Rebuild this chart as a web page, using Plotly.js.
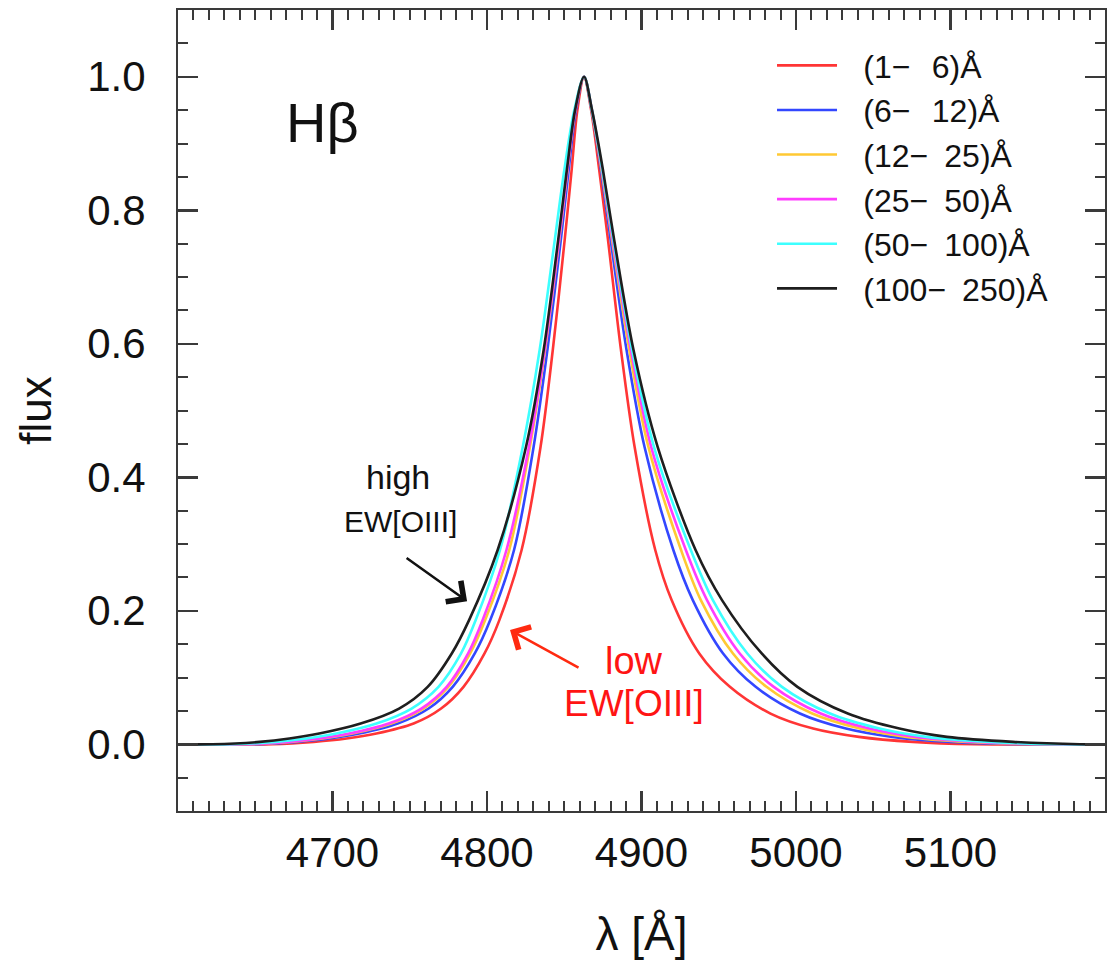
<!DOCTYPE html>
<html>
<head>
<meta charset="utf-8">
<script src="https://cdn.plot.ly/plotly-3.0.1.min.js"></script>
<style>html,body{margin:0;padding:0;background:#fff;}#chart{width:1115px;height:966px;}</style>
</head>
<body>
<div id="chart"></div>
<script>
// Legend labels (EW[OIII] bins) and colours
var seriesNames = [
  "\u2002\u2006(1\u2212\u2002\u20066)\u00c5",
  "\u2002\u2006(6\u2212\u2002\u200612)\u00c5",
  "\u2002\u2006(12\u2212\u200225)\u00c5",
  "\u2002\u2006(25\u2212\u200250)\u00c5",
  "\u2002\u2006(50\u2212\u2002100)\u00c5",
  "\u2002\u2006(100\u2212\u2002250)\u00c5"
];
var seriesColors = ["#ff3535", "#3347ff", "#ffc933", "#ff3dff", "#3dffff", "#1e1e1e"];

// Normalised flux levels at which the profiles were read (left wing -> peak -> right wing)
var fluxLevels = [0, 0, 0.0035, 0.0085, 0.016, 0.031, 0.0535, 0.086, 0.136, 0.186, 0.291, 0.446, 0.591, 0.756, 0.861, 0.95,
                  1.0,
                  0.95, 0.861, 0.756, 0.591, 0.446, 0.291, 0.216, 0.136, 0.086, 0.046, 0.0235, 0.011, 0.0035, 0, 0];

// Wavelengths (A) of each profile at those flux levels
var lamRed = [4600, 4661.0, 4687.9, 4709.1, 4728.4, 4752.5, 4770.3, 4784.8, 4798.4, 4808.0, 4822.4, 4834.7, 4842.6, 4850.3, 4854.8, 4858.5,
              4862.8,
              4867.4, 4872.6, 4878.3, 4886.7, 4895.5, 4908.9, 4919.5, 4937.4, 4957.2, 4983.5, 5011.1, 5040.7, 5075.6, 5115.7, 5200];
var lamBlue = [4600, 4650.0, 4677.4, 4698.0, 4717.3, 4742.2, 4762.2, 4777.8, 4792.1, 4802.1, 4817.5, 4830.2, 4839.1, 4847.8, 4852.9, 4857.6,
               4862.8,
               4867.7, 4873.7, 4880.0, 4890.3, 4901.9, 4920.6, 4933.2, 4952.8, 4973.9, 5002.5, 5032.3, 5062.4, 5100.3, 5151.3, 5200];
var lamYellow = [4600, 4645.5, 4673.2, 4693.6, 4712.9, 4738.1, 4758.9, 4775.0, 4789.1, 4798.8, 4814.4, 4827.8, 4837.6, 4846.8, 4852.1, 4857.2,
                 4862.8,
                 4867.8, 4874.1, 4880.9, 4892.1, 4904.4, 4925.6, 4938.4, 4959.2, 4980.9, 5010.5, 5041.3, 5071.5, 5110.7, 5161.0, 5200];
var lamMagenta = [4600, 4643.5, 4671.5, 4691.7, 4711.0, 4736.4, 4757.5, 4773.9, 4787.8, 4797.2, 4812.6, 4827.2, 4837.3, 4846.6, 4852.0, 4857.1,
                  4862.8,
                  4867.9, 4874.4, 4881.3, 4893.1, 4906.2, 4928.7, 4942.4, 4963.6, 4985.6, 5016.0, 5047.4, 5077.7, 5117.8, 5164.2, 5200];
var lamCyan = [4600, 4635.1, 4663.4, 4683.2, 4702.5, 4728.5, 4751.2, 4768.6, 4783.2, 4792.7, 4808.4, 4823.2, 4834.1, 4843.9, 4850.1, 4856.5,
               4862.8,
               4867.9, 4874.6, 4881.8, 4893.9, 4908.0, 4931.9, 4946.2, 4968.5, 4990.9, 5022.0, 5054.1, 5084.5, 5125.6, 5170.7, 5200];
var lamBlack = [4600, 4622.2, 4652.9, 4672.1, 4691.4, 4718.2, 4743.1, 4761.6, 4777.2, 4788.4, 4806.9, 4825.3, 4836.7, 4846.1, 4851.7, 4857.0,
                4862.8,
                4868.0, 4875.0, 4882.3, 4894.8, 4910.4, 4935.0, 4952.1, 4977.8, 5000.9, 5033.5, 5066.9, 5097.7, 5140.5, 5183.6, 5200];

var xTicks = [4700, 4800, 4900, 5000, 5100];
var yTicks = [0.0, 0.2, 0.4, 0.6, 0.8, 1.0];
var yTickText = ["0.0", "0.2", "0.4", "0.6", "0.8", "1.0"];

var lamAll = [lamRed, lamBlue, lamYellow, lamMagenta, lamCyan, lamBlack];

var FONT = "Liberation Sans, Arial, Helvetica, sans-serif";
var traces = [];
for (var i = 0; i < lamAll.length; i++) {
  traces.push({
    type: "scatter", mode: "lines",
    x: lamAll[i], y: fluxLevels, name: seriesNames[i],
    line: {color: seriesColors[i], width: 2.6, shape: "spline", smoothing: 0.9},
    hoverinfo: "skip"
  });
}

var axisCommon = {
  showline: true, linecolor: "#3a3a3a", linewidth: 2, mirror: "ticks",
  ticks: "inside", tickcolor: "#3a3a3a", tickwidth: 2.5, ticklen: 20,
  showgrid: false, zeroline: false,
  tickfont: {family: FONT, size: 42, color: "#111"}
};

var layout = {
  width: 1115, height: 966,
  margin: {l: 178, r: 10, t: 10, b: 155},
  paper_bgcolor: "#fff", plot_bgcolor: "#fff",
  showlegend: true,
  legend: {x: 0.6408, y: 0.965, xanchor: "left", yanchor: "top",
           font: {family: FONT, size: 32, color: "#111"},
           bgcolor: "rgba(0,0,0,0)", borderwidth: 0, itemwidth: 60, tracegroupgap: 0},
  xaxis: Object.assign({}, axisCommon, {
    range: [4600, 5200], tickmode: "array", tickvals: xTicks, ticklabelstandoff: 4,
    minor: {dtick: 10, tick0: 4600, ticks: "inside", ticklen: 10, tickwidth: 2, tickcolor: "#3a3a3a"},
    title: {text: "\u03bb [\u00c5]", font: {family: FONT, size: 46, color: "#111"}, standoff: 42}
  }),
  yaxis: Object.assign({}, axisCommon, {
    range: [-0.1, 1.1], tickmode: "array", tickvals: yTicks, ticktext: yTickText, ticklabelstandoff: 22,
    minor: {dtick: 0.05, tick0: 0, ticks: "inside", ticklen: 10, tickwidth: 2, tickcolor: "#3a3a3a"},
    title: {text: "flux", font: {family: FONT, size: 44, color: "#111"}, standoff: 22}
  }),
  annotations: [
    {x: 4693.5, y: 0.931, xref: "x", yref: "y", text: "H\u03b2", showarrow: false,
     font: {family: FONT, size: 56, color: "#111"}},
    {x: 4742.5, y: 0.400, xref: "x", yref: "y", text: "high", showarrow: false,
     font: {family: FONT, size: 34, color: "#111"}},
    {x: 4744, y: 0.333, xref: "x", yref: "y", text: "EW[OIII]", showarrow: false,
     font: {family: FONT, size: 30, color: "#111"}},
    {x: 4895.2, y: 0.124, xref: "x", yref: "y", text: "low", showarrow: false,
     font: {family: FONT, size: 38, color: "#ff1414"}},
    {x: 4895.2, y: 0.0615, xref: "x", yref: "y", text: "EW[OIII]", showarrow: false,
     font: {family: FONT, size: 37, color: "#ff1414"}},
    {x: 4787.1, y: 0.2144, ax: 4747.0, ay: 0.2808, xref: "x", yref: "y", axref: "x", ayref: "y",
     text: "", showarrow: true, arrowhead: 4, arrowsize: 2, arrowwidth: 2.5, arrowcolor: "#111", standoff: 0},
    {x: 4814.9, y: 0.171, ax: 4860.2, ay: 0.1135, xref: "x", yref: "y", axref: "x", ayref: "y",
     text: "", showarrow: true, arrowhead: 4, arrowsize: 2, arrowwidth: 2.5, arrowcolor: "#ff2a10", standoff: 0}
  ]
};

Plotly.newPlot("chart", traces, layout, {staticPlot: true, displayModeBar: false});
</script>
</body>
</html>
